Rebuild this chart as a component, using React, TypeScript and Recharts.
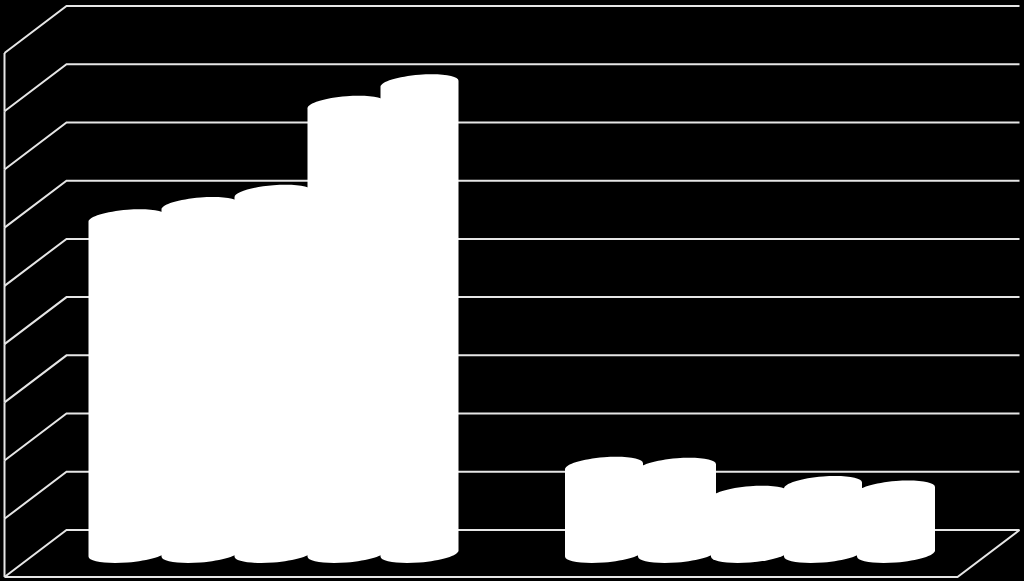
import React from 'react';
import { BarChart, Bar, XAxis, YAxis, CartesianGrid } from 'recharts';

const categories = ['A', 'B'];
const series1 = [57.5, 15];
const series2 = [59.6, 14.8];
const series3 = [61.7, 10];
const series4 = [77, 11.7];
const series5 = [80.7, 10.9];
const yTicks = [0, 10, 20, 30, 40, 50, 60, 70, 80, 90];

const chartData = categories.map((name, i) => ({
  name,
  s1: series1[i],
  s2: series2[i],
  s3: series3[i],
  s4: series4[i],
  s5: series5[i],
}));

const seriesKeys = ['s1', 's2', 's3', 's4', 's5'];

// half of the 3D depth: bars stand on the middle plane of the floor
const DEPTH_X = 31;
const DEPTH_Y = 23.5;
const LINE = '#e6e6e6';
const MARGIN = { top: 29.5, right: 35.5, bottom: 27.5, left: 35.5 };
const ROW = (581 - MARGIN.top - MARGIN.bottom) / (yTicks.length - 1);

// ellipse caps are sheared, they lean up to the right like the floor does
const SHEAR = 3;
const CAP = 9;
const K = 0.5523;

const Cylinder = (props: any) => {
  const { x, y, width, height } = props;
  const rx = width / 2;
  const cx = x + rx;
  const pt = (u: number, v: number, cy: number) => `${cx + rx * u},${cy - SHEAR * u - CAP * v}`;
  const b = y + height;
  const d = [
    `M${pt(-1, 0, y)}`,
    `C${pt(-1, K, y)} ${pt(-K, 1, y)} ${pt(0, 1, y)}`,
    `C${pt(K, 1, y)} ${pt(1, K, y)} ${pt(1, 0, y)}`,
    `L${pt(1, 0, b)}`,
    `C${pt(1, -K, b)} ${pt(K, -1, b)} ${pt(0, -1, b)}`,
    `C${pt(-K, -1, b)} ${pt(-1, -K, b)} ${pt(-1, 0, b)}`,
    'Z',
  ].join(' ');
  return <path d={d} fill="#ffffff" />;
};

const WallLine = (props: any) => {
  const { x1, y1, x2 } = props;
  const left = x1 - DEPTH_X;
  const low = y1 + DEPTH_Y;
  const back = y1 - DEPTH_Y;
  const isFloor = y1 > 540;
  return (
    <g fill="none" stroke={LINE} strokeWidth={2}>
      <path d={`M${left},${low} L${x1 + DEPTH_X},${back} L${x2 + DEPTH_X},${back}`} />
      {!isFloor && <path d={`M${left},${low} L${left},${low + ROW}`} />}
      {isFloor && <path d={`M${left},${low} L${x2 - DEPTH_X},${low} L${x2 + DEPTH_X},${back}`} />}
    </g>
  );
};

export default function App() {
  return (
    <div style={{ position: 'absolute', left: 0, top: 0, width: 1024, height: 581, background: '#000000', overflow: 'hidden' }}>
      <BarChart width={1024} height={581} data={chartData} margin={MARGIN} barSize={78} barGap={-5}>
        <CartesianGrid vertical={false} horizontal={(p: any) => <WallLine key={p.key ?? p.y1} {...p} />} />
        <XAxis dataKey="name" hide />
        <YAxis hide domain={[0, 90]} ticks={yTicks} />
        {seriesKeys.map((k) => (
          <Bar key={k} dataKey={k} shape={<Cylinder />} isAnimationActive={false} />
        ))}
      </BarChart>
    </div>
  );
}
